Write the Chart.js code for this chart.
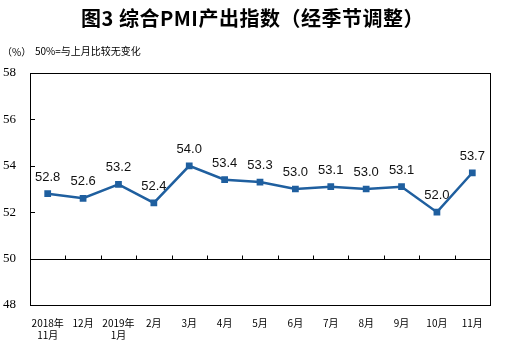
<!DOCTYPE html>
<html><head><meta charset="utf-8">
<script src="https://cdn.jsdelivr.net/npm/chart.js@4/dist/chart.umd.min.js"></script>
<style>
html,body{margin:0;padding:0;background:#fff;}
#wrap{position:relative;width:505px;height:351px;}
#title{position:absolute;left:0;top:3px;width:505px;text-align:center;font-family:"Noto Sans CJK SC";font-weight:bold;font-size:20px;color:#000;letter-spacing:0.5px;}
#unit{position:absolute;left:2px;top:44px;font-family:"Noto Sans CJK SC";font-size:10px;color:#000;}
#note{position:absolute;left:35px;top:43px;font-family:"Noto Sans CJK SC";font-size:10px;color:#000;}
canvas{position:absolute;left:0;top:0;}
</style></head>
<body>
<div id="wrap">
<canvas id="c" width="505" height="351"></canvas>
<div id="title">图3 综合PMI产出指数（经季节调整）</div>
<div id="unit">（%）</div>
<div id="note">50%=与上月比较无变化</div>
</div>
<script>
const categories = [["2018年","11月"],"12月",["2019年","1月"],"2月","3月","4月","5月","6月","7月","8月","9月","10月","11月"];
const values = [52.8,52.6,53.2,52.4,54.0,53.4,53.3,53.0,53.1,53.0,53.1,52.0,53.7];
const yTicks = [48,50,52,54,56,58];

const framePlugin = {
  id:'frame',
  afterDraw(chart){
    const {ctx, chartArea:a, scales:{x,y}} = chart;
    ctx.save();
    ctx.strokeStyle='#000'; ctx.lineWidth=1;
    ctx.strokeRect(Math.round(a.left)+0.5, Math.round(a.top)+0.5, Math.round(a.right-a.left), Math.round(a.bottom-a.top));
    yTicks.forEach(v=>{const py=Math.round(y.getPixelForValue(v))+0.5; ctx.beginPath(); ctx.moveTo(a.left,py); ctx.lineTo(a.left+5,py); ctx.stroke();});
    const by=Math.round(y.getPixelForValue(50))+0.5;
    ctx.beginPath(); ctx.moveTo(a.left,by); ctx.lineTo(a.right,by); ctx.stroke();
    for(let i=1;i<categories.length;i++){
      const px=Math.round((x.getPixelForValue(i-1)+x.getPixelForValue(i))/2)+0.5;
      ctx.beginPath(); ctx.moveTo(px,by); ctx.lineTo(px,by-4); ctx.stroke();
    }
    const meta=chart.getDatasetMeta(0);
    ctx.fillStyle='#111'; ctx.font='13px "Liberation Sans"'; ctx.textAlign='center'; ctx.textBaseline='bottom';
    meta.data.forEach((pt,i)=>{ctx.fillText(values[i].toFixed(1), pt.x, pt.y-10);});
    ctx.restore();
  }
};

new Chart(document.getElementById('c'),{
  type:'line',
  data:{labels:categories,datasets:[{data:values,borderColor:'#1f5f9f',backgroundColor:'#1f5f9f',borderWidth:2.5,pointStyle:'rect',pointRadius:3,pointHoverRadius:3,tension:0}]},
  options:{
    responsive:false,animation:false,
    layout:{padding:{left:0,right:15,top:73,bottom:0}},
    plugins:{legend:{display:false},tooltip:{enabled:false}},
    scales:{
      x:{offset:true,grid:{display:false},border:{display:false},
         ticks:{color:'#000',font:{family:'"Noto Sans CJK SC"',size:10},maxRotation:0,autoSkip:false,padding:4},
         afterFit(s){s.height=46;}},
      y:{min:48,max:58,grid:{display:false},border:{display:false},
         afterBuildTicks(s){s.ticks=yTicks.map(v=>({value:v}));},
         ticks:{color:'#000',font:{family:'"Liberation Serif"',size:13},padding:6},
         afterFit(s){s.width=30;}}
    }
  },
  plugins:[framePlugin]
});
</script>
</body></html>
